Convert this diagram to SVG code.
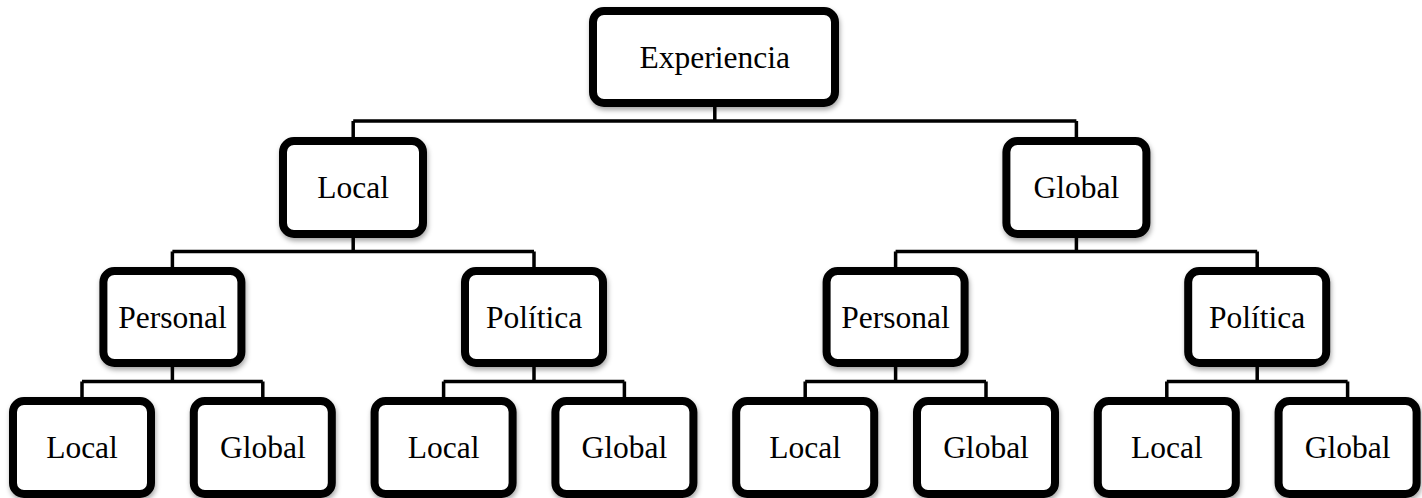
<svg xmlns="http://www.w3.org/2000/svg" width="1422" height="498" viewBox="0 0 1422 498">
<defs>
<filter id="sh" x="-10%" y="-10%" width="125%" height="130%">
<feDropShadow dx="1" dy="3" stdDeviation="2.5" flood-color="#000" flood-opacity="0.35"/>
</filter>
</defs>
<style>
.box{fill:#fff;stroke:#000;stroke-width:8;filter:url(#sh)}
.lbl{font-family:"Liberation Serif","Times New Roman",serif;font-size:31.5px;fill:#000;text-anchor:middle}
.con{fill:none;stroke:#000;stroke-width:3.5}
</style>
<rect width="1422" height="498" fill="#fff"/>
<g id="connectors" class="con">
<path d="M714.8 107 V121 M353.2 121 H1076.4 M353.2 121 V137 M1076.4 121 V137"/>
<path d="M353.2 238 V251.5 M172.4 251.5 H534 M172.4 251.5 V267 M534 251.5 V267"/>
<path d="M1076.4 238 V251.5 M895.6 251.5 H1257.2 M895.6 251.5 V267 M1257.2 251.5 V267"/>
<path d="M172.4 367 V381.5 M82 381.5 H262.8 M82 381.5 V397 M262.8 381.5 V397"/>
<path d="M534 367 V381.5 M443.6 381.5 H624.4 M443.6 381.5 V397 M624.4 381.5 V397"/>
<path d="M895.6 367 V381.5 M805.2 381.5 H986 M805.2 381.5 V397 M986 381.5 V397"/>
<path d="M1257.2 367 V381.5 M1166.8 381.5 H1347.6 M1166.8 381.5 V397 M1347.6 381.5 V397"/>
</g>
<g id="n0"><rect class="box" x="593" y="11" width="242" height="92" rx="11"/><text class="lbl" x="714.8" y="68">Experiencia</text></g>
<g id="n1"><rect class="box" x="283" y="141" width="140" height="93" rx="11"/><text class="lbl" x="353.2" y="198">Local</text></g>
<g id="n2"><rect class="box" x="1006.4" y="141" width="140" height="93" rx="11"/><text class="lbl" x="1076.4" y="198">Global</text></g>
<g id="n3"><rect class="box" x="103.4" y="271" width="138" height="92" rx="11"/><text class="lbl" x="172.4" y="328">Personal</text></g>
<g id="n4"><rect class="box" x="465" y="271" width="138" height="92" rx="11"/><text class="lbl" x="534" y="328">Política</text></g>
<g id="n5"><rect class="box" x="826.6" y="271" width="138" height="92" rx="11"/><text class="lbl" x="895.6" y="328">Personal</text></g>
<g id="n6"><rect class="box" x="1188.2" y="271" width="138" height="92" rx="11"/><text class="lbl" x="1257.2" y="328">Política</text></g>
<g id="n7"><rect class="box" x="13" y="401" width="138" height="93" rx="11"/><text class="lbl" x="82" y="457.5">Local</text></g>
<g id="n8"><rect class="box" x="193.8" y="401" width="138" height="93" rx="11"/><text class="lbl" x="262.8" y="457.5">Global</text></g>
<g id="n9"><rect class="box" x="374.6" y="401" width="138" height="93" rx="11"/><text class="lbl" x="443.6" y="457.5">Local</text></g>
<g id="n10"><rect class="box" x="555.4" y="401" width="138" height="93" rx="11"/><text class="lbl" x="624.4" y="457.5">Global</text></g>
<g id="n11"><rect class="box" x="736.2" y="401" width="138" height="93" rx="11"/><text class="lbl" x="805.2" y="457.5">Local</text></g>
<g id="n12"><rect class="box" x="917" y="401" width="138" height="93" rx="11"/><text class="lbl" x="986" y="457.5">Global</text></g>
<g id="n13"><rect class="box" x="1097.8" y="401" width="138" height="93" rx="11"/><text class="lbl" x="1166.8" y="457.5">Local</text></g>
<g id="n14"><rect class="box" x="1278.6" y="401" width="138" height="93" rx="11"/><text class="lbl" x="1347.6" y="457.5">Global</text></g>
</svg>
